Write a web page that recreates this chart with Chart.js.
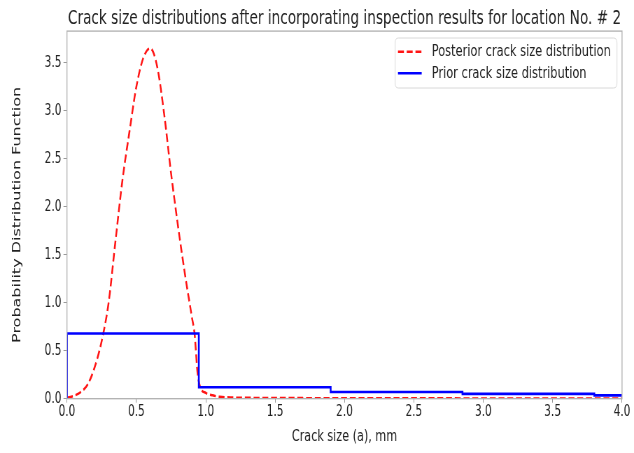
<!DOCTYPE html>
<html><head><meta charset="utf-8">
<script src="https://cdn.jsdelivr.net/npm/chart.js@4"></script>
<style>
html,body{margin:0;padding:0;background:#fff;overflow:hidden;width:634px;height:453px}
#wrap{position:absolute;left:0;top:0;width:906px;height:453px;transform:scaleX(0.699779);transform-origin:0 0}
</style></head>
<body><div id="wrap"><canvas id="c"></canvas></div>
<script>
// ---- data ----
const posteriorX = [0.00,0.05,0.10,0.15,0.20,0.25,0.30,0.35,0.40,0.45,0.50,0.55,0.60,0.65,0.70,0.75,0.80,0.85,0.90,0.92,0.94,0.96,1.00,1.05,1.10,1.20,1.40,1.70,2.00,2.50,3.00,3.50,4.00];
const posteriorY = [0.01,0.03,0.07,0.15,0.33,0.60,1.00,1.65,2.28,2.78,3.25,3.55,3.65,3.46,2.97,2.35,1.80,1.30,0.85,0.67,0.28,0.12,0.06,0.035,0.02,0.012,0.008,0.006,0.005,0.004,0.003,0.002,0.002];
const priorX = [0.00,0.00,0.95,1.90,2.85,3.80,4.00];
const priorY = [0.00,0.68,0.12,0.07,0.05,0.035,0.035];
const xTicks = [0,0.5,1,1.5,2,2.5,3,3.5,4];
const yTicks = [0,0.5,1,1.5,2,2.5,3,3.5];
const labels = ['Posterior crack size distribution','Prior crack size distribution'];
const titleText = 'Crack size distributions after incorporating inspection results for location No. # 2';
const xLabel = 'Crack size (a), mm';
const yLabel = 'Probability Distribution Function';

const FONT = "'DejaVu Sans', sans-serif";

const frame = {
  id:'frame',
  afterDatasetsDraw(chart){
    const {ctx, chartArea:a} = chart;
    ctx.save();
    ctx.strokeStyle = '#b0b0b0';
    ctx.lineWidth = 1.3;
    ctx.strokeRect(a.left, a.top, a.right-a.left, a.bottom-a.top);
    // legend
    const x0 = 564.5, y0 = 38, w = 317.2, h = 50;
    ctx.beginPath();
    const r = 5;
    ctx.moveTo(x0+r,y0); ctx.lineTo(x0+w-r,y0); ctx.quadraticCurveTo(x0+w,y0,x0+w,y0+r);
    ctx.lineTo(x0+w,y0+h-r); ctx.quadraticCurveTo(x0+w,y0+h,x0+w-r,y0+h);
    ctx.lineTo(x0+r,y0+h); ctx.quadraticCurveTo(x0,y0+h,x0,y0+h-r);
    ctx.lineTo(x0,y0+r); ctx.quadraticCurveTo(x0,y0,x0+r,y0); ctx.closePath();
    ctx.fillStyle = 'rgba(255,255,255,0.85)'; ctx.fill();
    ctx.strokeStyle = '#d8d8d8'; ctx.lineWidth = 1; ctx.stroke();
    const order = [1,0];
    const ys = [51.7, 73.3];
    order.forEach((di,i)=>{
      const ds = chart.data.datasets[di];
      ctx.beginPath();
      ctx.setLineDash(ds.borderDash || []);
      ctx.strokeStyle = ds.borderColor; ctx.lineWidth = ds.borderWidth;
      ctx.moveTo(568.7, ys[i]); ctx.lineTo(602.6, ys[i]); ctx.stroke();
      ctx.setLineDash([]);
      ctx.fillStyle = '#222'; ctx.font = '16.3px ' + FONT;
      ctx.textBaseline = 'middle'; ctx.textAlign = 'left';
      ctx.fillText(ds.label, 616.9, ys[i]);
    });
    ctx.restore();
  }
};

new Chart(document.getElementById('c'), {
  type:'line',
  data:{
    datasets:[
      {label:labels[1], data:priorX.map((x,i)=>({x, y:priorY[i]})), borderColor:'#0000ff', borderWidth:2.6, stepped:'before', pointRadius:0, fill:false},
      {label:labels[0], data:posteriorX.map((x,i)=>({x, y:posteriorY[i]})), borderColor:'rgba(255,0,0,0.92)', borderWidth:2.5, borderDash:[8.5,4], pointRadius:0, fill:false, cubicInterpolationMode:'monotone'}
    ]
  },
  options:{
    responsive:true, maintainAspectRatio:false, animation:false,
    layout:{padding:{left:0,right:17.1,top:0,bottom:0}},
    plugins:{
      legend:{display:false}, tooltip:{enabled:false},
      title:{display:true, text:titleText, fullSize:false, color:'#222', font:{family:FONT,size:19.5,weight:'normal'}, padding:{top:7.7,bottom:0}}
    },
    scales:{
      x:{type:'linear', min:0, max:4,
        afterBuildTicks:s=>{s.ticks = xTicks.map(v=>({value:v}));},
        afterFit:s=>{s.height = 54.3;},
        ticks:{color:'#222', font:{family:FONT,size:15}, padding:0, callback:v=>v.toFixed(1), maxRotation:0, autoSkip:false},
        grid:{drawOnChartArea:false, tickLength:4, tickColor:'#999', tickWidth:1},
        border:{display:false},
        title:{display:true, text:xLabel, color:'#222', font:{family:FONT,size:16}, padding:{top:0,bottom:6.4}}
      },
      y:{type:'linear', min:0, max:3.83,
        afterBuildTicks:s=>{s.ticks = yTicks.map(v=>({value:v}));},
        afterFit:s=>{s.width = 95.7;},
        ticks:{color:'#222', font:{family:FONT,size:15}, padding:3, callback:v=>v.toFixed(1), autoSkip:false},
        grid:{drawOnChartArea:false, tickLength:5, tickColor:'#999', tickWidth:1},
        border:{display:false},
        title:{display:true, text:yLabel, color:'#222', font:{family:FONT,size:16}, padding:{top:15.4,bottom:0}}
      }
    }
  },
  plugins:[frame]
});
</script>
</body></html>
